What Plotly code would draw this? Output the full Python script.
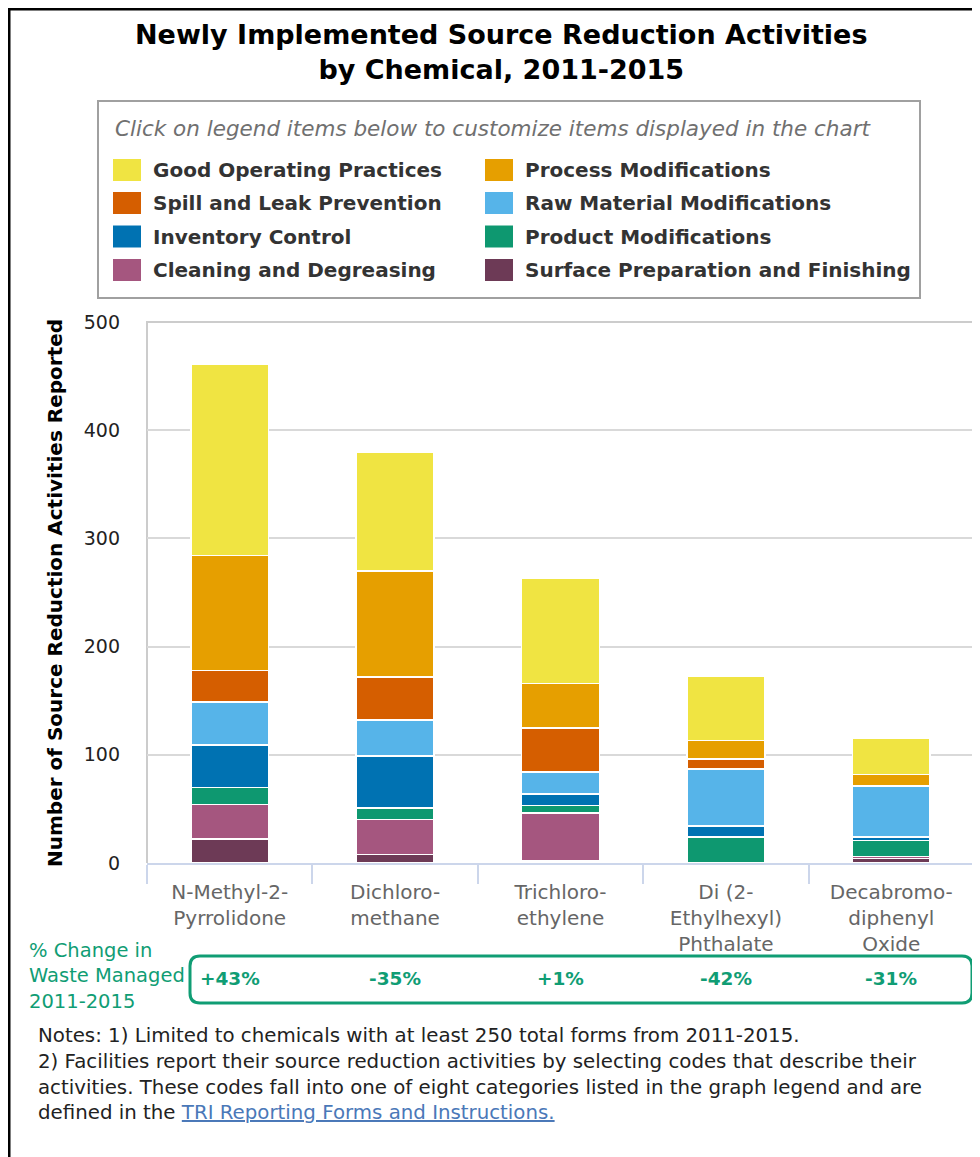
import plotly.graph_objects as go

# ---- data ----
chemicals = [
    "N-Methyl-2-<br>Pyrrolidone",
    "Dichloro-<br>methane",
    "Trichloro-<br>ethylene",
    "Di (2-<br>Ethylhexyl)<br>Phthalate",
    "Decabromo-<br>diphenyl<br>Oxide",
]

good_operating = [177, 110, 97, 60, 33]
process_mods = [106, 98, 41, 17, 11]
spill_leak = [29, 40, 41, 9, 0]
raw_material = [40, 33, 20, 53, 47]
inventory = [39, 48, 11, 10, 3]
product_mods = [16, 11, 7, 24, 15]
cleaning = [32, 32, 44, 0, 2]
surface_prep = [22, 8, 2, 0, 4]

pct_change = ["+43%", "-35%", "+1%", "-42%", "-31%"]

# legend order (row by row, two columns)
series = [
    ("Good Operating Practices", good_operating, "#F0E442"),
    ("Process Modifications", process_mods, "#E69F00"),
    ("Spill and Leak Prevention", spill_leak, "#D55E00"),
    ("Raw Material Modifications", raw_material, "#56B4E9"),
    ("Inventory Control", inventory, "#0072B2"),
    ("Product Modifications", product_mods, "#0E9870"),
    ("Cleaning and Degreasing", cleaning, "#A5567F"),
    ("Surface Preparation and Finishing", surface_prep, "#6D3A56"),
]

FONT = "DejaVu Sans, Verdana, sans-serif"
GREEN = "#109D74"

# page offsets the figure by the body margin
OFF = 8
W_FIG, H_FIG = 980 - OFF, 1157 - OFF
# plot area in page pixels
L, R, T, B = 147, 974, 322, 863


def px(x):
    return (x - L) / (R - L)


def py(y):
    return (B - y) / (B - T)


fig = go.Figure()

# stacked from bottom up
for name, vals, color in reversed(series):
    fig.add_trace(
        go.Bar(
            name=name,
            x=chemicals,
            y=vals,
            marker=dict(color=color, line=dict(color="white", width=1.5)),
            showlegend=False,
        )
    )

shapes = []
annotations = []

# outer black frame (left + top)
shapes.append(dict(type="line", xref="paper", yref="paper", x0=px(9), x1=px(9), y0=py(8), y1=py(1170),
                   line=dict(color="black", width=3)))
shapes.append(dict(type="line", xref="paper", yref="paper", x0=px(8), x1=px(990), y0=py(9), y1=py(9),
                   line=dict(color="black", width=3)))

# plot area frame (top, left, right)
shapes.append(dict(type="path", xref="paper", yref="paper",
                   path=f"M {px(L)},{py(B)} L {px(L)},{py(T)} L {px(R)},{py(T)} L {px(R)},{py(B)}",
                   line=dict(color="#CCCCCC", width=2), layer="below"))

# title
annotations.append(dict(
    text="<b>Newly Implemented Source Reduction Activities<br>by Chemical, 2011-2015</b>",
    xref="paper", yref="paper", x=px(501), y=py(52), xanchor="center", yanchor="middle",
    showarrow=False, font=dict(family=FONT, size=27, color="black"),
))

# legend box
shapes.append(dict(type="rect", xref="paper", yref="paper", x0=px(98), x1=px(920), y0=py(101), y1=py(298),
                   line=dict(color="#A0A0A0", width=2), fillcolor="white"))
annotations.append(dict(
    text="<i>Click on legend items below to customize items displayed in the chart</i>",
    xref="paper", yref="paper", x=px(113), y=py(129), xanchor="left", yanchor="middle",
    showarrow=False, font=dict(family=FONT, size=21.5, color="#707070"),
))
row_y = [170, 203, 236.5, 270]
col_x = [113, 485]
for i, (name, _, color) in enumerate(series):
    cx = col_x[i % 2]
    cy = row_y[i // 2]
    shapes.append(dict(type="rect", xref="paper", yref="paper", x0=px(cx), x1=px(cx + 28),
                       y0=py(cy - 11), y1=py(cy + 11), line=dict(width=0), fillcolor=color))
    annotations.append(dict(
        text=f"<b>{name}</b>", xref="paper", yref="paper", x=px(cx + 38), y=py(cy),
        xanchor="left", yanchor="middle", showarrow=False,
        font=dict(family=FONT, size=20, color="#333333"),
    ))

# y axis title
annotations.append(dict(
    text="<b>Number of Source Reduction Activities Reported</b>",
    xref="paper", yref="paper", x=px(55), y=py(593), xanchor="center", yanchor="middle",
    textangle=-90, showarrow=False, font=dict(family=FONT, size=20, color="black"),
))

# % change row
annotations.append(dict(
    text="% Change in<br>Waste Managed<br>2011-2015",
    xref="paper", yref="paper", x=px(27), y=py(976), xanchor="left", yanchor="middle",
    align="left", showarrow=False, font=dict(family=FONT, size=19.5, color=GREEN),
))
r = 10
x0, x1, y0, y1 = 190, 972, 956, 1003
rx, ry = r / (R - L), r / (B - T)
X0, X1, Y0, Y1 = px(x0), px(x1), py(y0), py(y1)
shapes.append(dict(
    type="path", xref="paper", yref="paper",
    path=(f"M {X0 + rx},{Y0} L {X1 - rx},{Y0} Q {X1},{Y0} {X1},{Y0 - ry} "
          f"L {X1},{Y1 + ry} Q {X1},{Y1} {X1 - rx},{Y1} "
          f"L {X0 + rx},{Y1} Q {X0},{Y1} {X0},{Y1 + ry} "
          f"L {X0},{Y0 - ry} Q {X0},{Y0} {X0 + rx},{Y0} Z"),
    line=dict(color=GREEN, width=3),
))
for chem, pct in zip(chemicals, pct_change):
    annotations.append(dict(
        text=f"<b>{pct}</b>", xref="x", yref="paper", x=chem, y=py(978),
        xanchor="center", yanchor="middle", showarrow=False,
        font=dict(family=FONT, size=18.5, color=GREEN),
    ))

# notes
notes = [
    "Notes: 1) Limited to chemicals with at least 250 total forms from 2011-2015.",
    "2) Facilities report their source reduction activities by selecting codes that describe their",
    "activities. These codes fall into one of eight categories listed in the graph legend and are",
    "defined in the <a href=\"https://www.epa.gov/toxics-release-inventory-tri-program/tri-reporting-forms-and-instructions\" "
    "style=\"color:#4A78B8;text-decoration:underline\">TRI Reporting Forms and Instructions.</a>",
]
for line, yy in zip(notes, [1035, 1061, 1087, 1112]):
    annotations.append(dict(
        text=line, xref="paper", yref="paper", x=px(36), y=py(yy), xanchor="left", yanchor="middle",
        showarrow=False, font=dict(family=FONT, size=19.8, color="#222222"),
    ))

fig.update_layout(
    width=W_FIG,
    height=H_FIG,
    barmode="stack",
    bargap=0.53,
    paper_bgcolor="white",
    plot_bgcolor="white",
    margin=dict(l=L - OFF, r=W_FIG - (R - OFF), t=T - OFF, b=H_FIG - (B - OFF), pad=0),
    font=dict(family=FONT),
    showlegend=False,
    shapes=shapes,
    annotations=annotations,
    xaxis=dict(
        showline=True, linecolor="#CCD6EB", linewidth=2,
        ticks="outside", tickson="boundaries", ticklen=19, tickcolor="#CCD6EB", tickwidth=2,
        tickfont=dict(family=FONT, size=20, color="#666666"),
        ticklabelstandoff=10,
        showgrid=False,
    ),
    yaxis=dict(
        range=[0, 500], dtick=100, showgrid=True, gridcolor="#D9D9D9", gridwidth=1.5,
        zeroline=False, showline=False,
        tickfont=dict(family=FONT, size=19, color="#222222"),
        ticklabelstandoff=26,
    ),
)

fig.write_html("out.html")
